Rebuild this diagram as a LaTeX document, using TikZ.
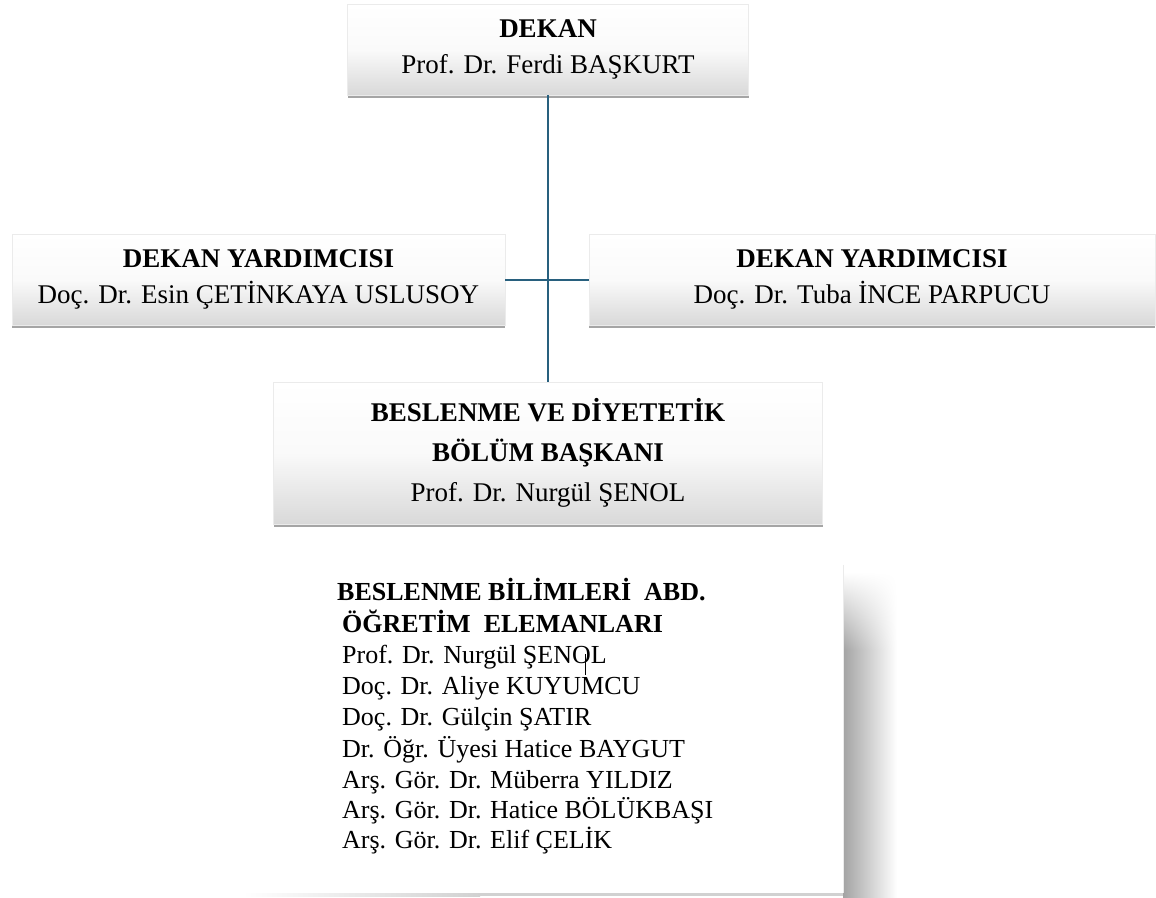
\documentclass[tikz,border=0pt]{standalone}
\usepackage{fontspec}
\setmainfont{Liberation Serif}
\usetikzlibrary{shadows,shadings}
\definecolor{linkc}{RGB}{40,96,126}
\tikzset{
  orgbox/.style={rectangle, inner sep=0pt, align=center,
    draw=black!8, line width=0.6pt,
    top color=white, bottom color=black!15, middle color=black!2,
    drop shadow={shadow xshift=0pt, shadow yshift=-3pt, opacity=0.5, fill=black!70}},
  boxfont/.style={font=\fontsize{27}{36}\selectfont},
  link/.style={draw=linkc, line width=2pt},
  listline/.style={anchor=base west, inner sep=0pt, font=\fontsize{26}{31}\selectfont},
}
\begin{document}
\begin{tikzpicture}[x=1pt,y=-1pt]
\useasboundingbox (0,0) rectangle (1156,897);
\fill[white] (0,0) rectangle (1156,897);
% bottom box with shadow
\shade[upper left=white, lower left=black!36, upper right=white, lower right=white] (843,572) rectangle (897,650);
\shade[left color=black!36, right color=white] (843,650) rectangle (897,897);
\shade[left color=white, right color=black!18] (243,893) rectangle (480,896);
\fill[black!18] (480,893) rectangle (843,896);
\node[rectangle, fill=white, inner sep=0pt, minimum width=598pt, minimum height=328pt] (abd) at (544,729) {};
\draw[black!8, line width=0.8pt] (abd.north east) -- (abd.south east);
% boxes
\node[orgbox, boxfont, minimum width=401pt, minimum height=91pt] (dekan) at (548,49.5)
  {\textbf{DEKAN}\\Prof. Dr. Ferdi BAŞKURT};
\node[orgbox, boxfont, minimum width=493pt, minimum height=91pt] (vyl) at (258.5,279.5)
  {\textbf{DEKAN YARDIMCISI}\\Doç. Dr. Esin ÇETİNKAYA USLUSOY};
\node[orgbox, boxfont, minimum width=566pt, minimum height=91pt] (vyr) at (872,279.5)
  {\textbf{DEKAN YARDIMCISI}\\Doç. Dr. Tuba İNCE PARPUCU};
\node[orgbox, font=\fontsize{27}{40}\selectfont, minimum width=549pt, minimum height=142pt] (bolum) at (548,453)
  {\textbf{BESLENME VE DİYETETİK}\\\textbf{BÖLÜM BAŞKANI}\\Prof. Dr. Nurgül ŞENOL};
% connectors
\draw[link] (dekan.south) -- (bolum.north);
\draw[link] (vyl.east) -- (vyr.west);
% list
\node[listline] (l1) at (337,600) {\textbf{BESLENME BİLİMLERİ\ \ ABD.}};
\node[listline] (l2) at (342,632) {\textbf{ÖĞRETİM\ \ ELEMANLARI}};
\node[listline] (l3) at (342,663) {Prof. Dr. Nurgül\ ŞENOL};
\node[listline] (l4) at (342,694) {Doç. Dr. Aliye KUYUMCU};
\node[listline] (l5) at (342,725) {Doç. Dr. Gülçin ŞATIR};
\node[listline] (l6) at (342,757) {Dr. Öğr. Üyesi Hatice BAYGUT};
\node[listline] (l7) at (342,788) {Arş. Gör. Dr. Müberra YILDIZ};
\node[listline] (l8) at (342,818) {Arş. Gör. Dr. Hatice BÖLÜKBAŞI};
\node[listline] (l9) at (342,848) {Arş. Gör. Dr. Elif ÇELİK};
\coordinate (tickt) at (585,654);
\coordinate (tickb) at (585,675);
\draw[black, line width=0.8pt] (tickt) -- (tickb);
\end{tikzpicture}
\end{document}
